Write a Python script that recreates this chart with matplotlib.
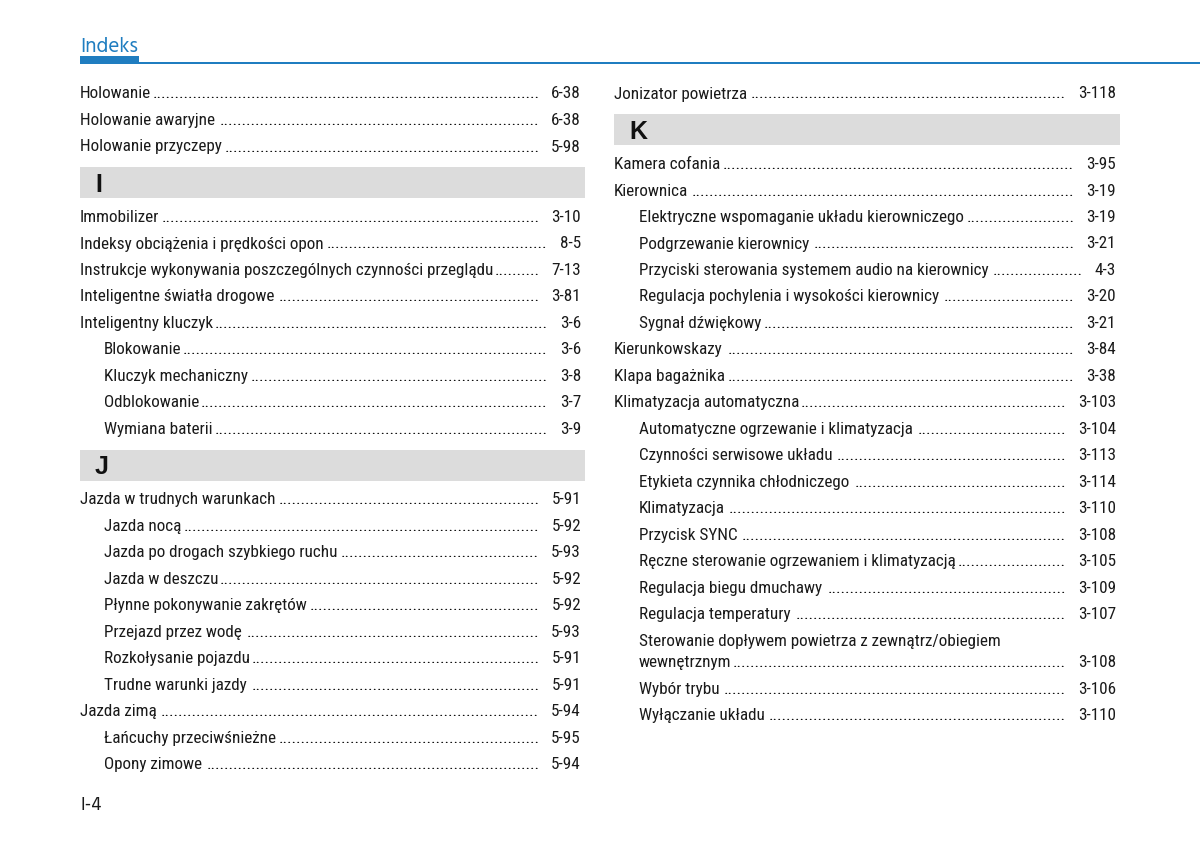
import matplotlib
matplotlib.use("Agg")
import matplotlib.pyplot as plt
from matplotlib import font_manager as fm
from matplotlib.patches import Rectangle

# lewa kolumna: tekst, strona, poziom (None = nagłówek litery)
left_text = ["Holowanie", "Holowanie awaryjne", "Holowanie przyczepy", "I",
             "Immobilizer", "Indeksy obciążenia i prędkości opon",
             "Instrukcje wykonywania poszczególnych czynności przeglądu",
             "Inteligentne światła drogowe", "Inteligentny kluczyk",
             "Blokowanie", "Kluczyk mechaniczny", "Odblokowanie", "Wymiana baterii", "J",
             "Jazda w trudnych warunkach", "Jazda nocą", "Jazda po drogach szybkiego ruchu",
             "Jazda w deszczu", "Płynne pokonywanie zakrętów", "Przejazd przez wodę",
             "Rozkołysanie pojazdu", "Trudne warunki jazdy", "Jazda zimą",
             "Łańcuchy przeciwśnieżne", "Opony zimowe"]
left_page = ["6-38", "6-38", "5-98", None,
             "3-10", "8-5", "7-13", "3-81", "3-6",
             "3-6", "3-8", "3-7", "3-9", None,
             "5-91", "5-92", "5-93", "5-92", "5-92", "5-93", "5-91", "5-91", "5-94",
             "5-95", "5-94"]
left_level = [0, 0, 0, None, 0, 0, 0, 0, 0, 1, 1, 1, 1, None,
              0, 1, 1, 1, 1, 1, 1, 1, 0, 1, 1]

right_text = ["Jonizator powietrza", "K", "Kamera cofania", "Kierownica",
              "Elektryczne wspomaganie układu kierowniczego", "Podgrzewanie kierownicy",
              "Przyciski sterowania systemem audio na kierownicy",
              "Regulacja pochylenia i wysokości kierownicy", "Sygnał dźwiękowy",
              "Kierunkowskazy", "Klapa bagażnika", "Klimatyzacja automatyczna",
              "Automatyczne ogrzewanie i klimatyzacja", "Czynności serwisowe układu",
              "Etykieta czynnika chłodniczego", "Klimatyzacja", "Przycisk SYNC",
              "Ręczne sterowanie ogrzewaniem i klimatyzacją", "Regulacja biegu dmuchawy",
              "Regulacja temperatury",
              "Sterowanie dopływem powietrza z zewnątrz/obiegiem\nwewnętrznym",
              "Wybór trybu", "Wyłączanie układu"]
right_page = ["3-118", None, "3-95", "3-19", "3-19", "3-21", "4-3", "3-20", "3-21",
              "3-84", "3-38", "3-103", "3-104", "3-113", "3-114", "3-110", "3-108",
              "3-105", "3-109", "3-107", "3-108", "3-106", "3-110"]
right_level = [0, None, 0, 0, 1, 1, 1, 1, 1, 0, 0, 0, 1, 1, 1, 1, 1, 1, 1, 1, 1, 1, 1]

BLUE = "#1f7dc0"
INK = "#1a1a1a"
STEP = 26.5

installed = {f.name for f in fm.fontManager.ttflist}
narrow = ["Roboto Condensed", "Archivo Narrow", "PT Sans Narrow", "Liberation Sans Narrow",
          "Arial Narrow", "Pragati Narrow", "Encode Sans Condensed", "Asap Condensed",
          "Liberation Sans"]
FONT = [next(n for n in narrow if n in installed or n == "Liberation Sans"), "DejaVu Sans"]
head_opts = ["Hind", "Catamaran", "Open Sans"]
HEAD = [next(n for n in head_opts if n in installed or n == "Open Sans"), "DejaVu Sans"]

fig = plt.figure(figsize=(12, 8.45), dpi=100)
ax = fig.add_axes([0, 0, 1, 1])
ax.set_xlim(0, 1200)
ax.set_ylim(845, 0)
ax.axis("off")
renderer = fig.canvas.get_renderer()
inv = ax.transData.inverted()


def extent(t):
    bb = t.get_window_extent(renderer)
    (x0, _), (x1, _) = inv.transform([(bb.x0, bb.y0), (bb.x1, bb.y1)])
    return x0, x1


def fit_size(s, family, target):
    probe = ax.text(0, -100, s, fontsize=10, family=family)
    a, b = extent(probe)
    probe.remove()
    return 10 * target / (b - a)


# rozmiar dobrany do szerokości najdłuższego hasła w oryginale
FS = fit_size("Instrukcje wykonywania poszczególnych czynności przeglądu", FONT, 412)
probe = ax.text(0, -100, "." * 100, fontsize=FS, family=FONT)
x0, x1 = extent(probe)
dot_w = (x1 - x0) / 100
probe.remove()

# nagłówek strony
hs = fit_size("Indeks", HEAD, 58)
ax.text(80, 51.5, "Indeks", fontsize=hs, family=HEAD, color=BLUE, va="baseline")
ax.add_patch(Rectangle((80, 57), 59, 7, color=BLUE, lw=0))
ax.add_patch(Rectangle((80, 62.5), 1120, 2.3, color=BLUE, lw=0))
ax.text(80, 810, "I-4", fontsize=13.5, family=HEAD, color=INK, va="baseline")


def draw_column(texts, pages, levels, x_left, x_right, indent):
    y = 98.5
    for txt, pg, lvl in zip(texts, pages, levels):
        if lvl is None:
            top = y - STEP + 16.5
            ax.add_patch(Rectangle((x_left, top), x_right + 4 - x_left, 31,
                                   color="#dcdcdc", lw=0))
            ax.text(x_left + 15, top + 24, txt, fontsize=18, fontweight="bold",
                    family="Liberation Sans", color="#111111", va="baseline")
            y = top + 31 + 23
            continue
        x = x_left + indent * lvl
        lines = txt.split("\n")
        for i, line in enumerate(lines):
            if i > 0:
                y += 21.5
            t = ax.text(x, y, line, fontsize=FS, family=FONT, color=INK, va="baseline")
        p = ax.text(x_right, y, pg, fontsize=FS, family=FONT, color=INK,
                    va="baseline", ha="right")
        _, tx1 = extent(t)
        px0, _ = extent(p)
        end = px0 - 12
        n = int((end - tx1 - 1) / dot_w)
        if n > 0:
            ax.text(end, y, "." * n, fontsize=FS, family=FONT, color="#000000",
                    va="baseline", ha="right")
        y += STEP


draw_column(left_text, left_page, left_level, 80, 581, 24)
draw_column(right_text, right_page, right_level, 614, 1116, 25)

fig.savefig("out.png", dpi=100, facecolor="white")
